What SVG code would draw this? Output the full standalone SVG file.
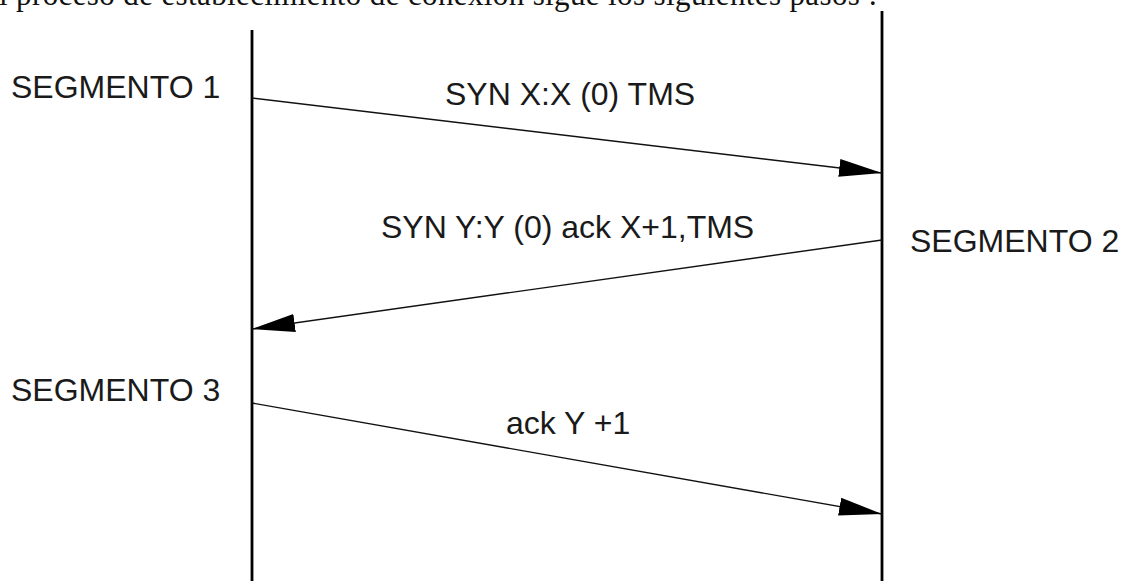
<svg xmlns="http://www.w3.org/2000/svg" width="1130" height="581" viewBox="0 0 1130 581">
  <style>
    .lbl { font-family: "Liberation Sans", Arial, sans-serif; font-size: 32px; fill: #1a1a1a; }
    .top { font-family: "Liberation Serif", "Times New Roman", serif; font-size: 31px; fill: #111; }
    .life { stroke: #000; stroke-width: 2.8; }
    .msg { stroke: #111; stroke-width: 1.4; fill: none; marker-end: url(#head); }
  </style>
  <defs>
    <!-- solid triangular arrowhead, tip at the end of the message line -->
    <marker id="head" markerUnits="userSpaceOnUse" viewBox="0 0 44 20" markerWidth="44" markerHeight="20" refX="43" refY="10" orient="auto">
      <path d="M0,1 L43,10 L0,19 Z" fill="#000"/>
    </marker>
  </defs>
  <rect width="1130" height="581" fill="#fff"/>

  <text class="top" x="-1" y="5" textLength="878" lengthAdjust="spacing">l proceso de establecimiento de conexión sigue los siguientes pasos :</text>

  <!-- lifelines -->
  <g id="client">
    <line class="life" x1="252" y1="30" x2="252" y2="581"/>
    <text class="lbl" x="11" y="98">SEGMENTO 1</text>
    <text class="lbl" x="11" y="401">SEGMENTO 3</text>
  </g>
  <g id="server">
    <line class="life" x1="882" y1="11" x2="882" y2="581"/>
    <text class="lbl" x="910" y="252">SEGMENTO 2</text>
  </g>

  <!-- messages -->
  <g id="connectors">
    <line class="msg" x1="252" y1="98" x2="882" y2="173"/>
    <line class="msg" x1="882" y1="240" x2="252" y2="329"/>
    <line class="msg" x1="252" y1="403" x2="882" y2="514"/>
  </g>
  <g id="labels">
    <text class="lbl" x="445" y="105">SYN X:X (0) TMS</text>
    <text class="lbl" x="381" y="238">SYN Y:Y (0) ack X+1,TMS</text>
    <text class="lbl" x="506" y="434">ack Y +1</text>
  </g>
</svg>
